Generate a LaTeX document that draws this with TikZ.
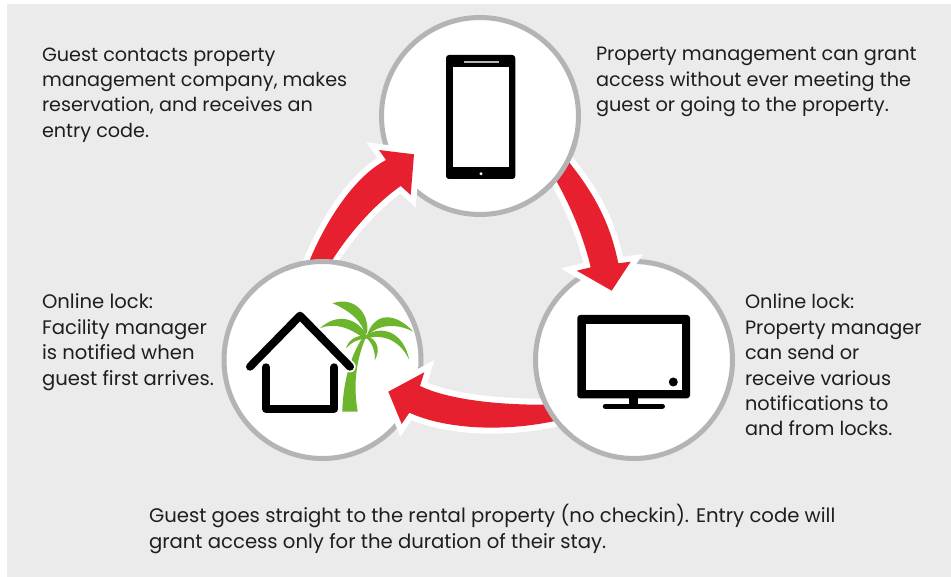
\documentclass[tikz,border=0pt]{standalone}
\usepackage{fontspec}
\setmainfont{Poppins}
\usetikzlibrary{calc}
\definecolor{panelgrey}{HTML}{EBEBEB}
\definecolor{ringgrey}{HTML}{B3B4B6}
\definecolor{arrowred}{HTML}{E6202F}
\definecolor{palmgreen}{HTML}{6CB52D}
\definecolor{inktext}{HTML}{1E1E1E}
\tikzset{
  ring/.style={circle,draw=ringgrey,fill=white,line width=5pt,minimum size=197pt,inner sep=0pt,outer sep=0pt},
  ringarc/.style={draw=ringgrey,line width=5pt},
  fatarrow/.style={fill=arrowred,draw=white,line width=12pt,miter limit=20,line join=miter},
  fatcore/.style={fill=arrowred},
  note/.style={anchor=north west,inner sep=0pt,outer sep=0pt,align=left,text=inktext,font=\fontsize{#1}{25.4}\selectfont},
  iconline/.style={draw=black,line width=8pt,line cap=round,line join=round},
  frond/.style={fill=palmgreen},
}
\begin{document}
\begin{tikzpicture}[x=1pt,y=-1pt]
\useasboundingbox (0,0) rectangle (951,577);
\fill[white] (0,0) rectangle (951,577);
\fill[panelgrey] (7,4) rectangle (951,577);

\node[ring] (top) at (480,116) {};
\node[ring] (left) at (322.5,360) {};
\node[ring] (right) at (634,360) {};

% arrow shapes
\newcommand{\arrowone}{(left.98) .. controls (324,225) and (352,178) .. (386,160) -- (379,150) -- (414,154.3) -- (410.7,195) -- (400.7,186) .. controls (375,204) and (350,232) .. (left.85) -- cycle}
\newcommand{\arrowtwo}{(top.-27) .. controls (600,200) and (612,232) .. (618.3,263.3) -- (630.7,261.7) -- (611.7,290.7) -- (576.7,270.7) -- (590.7,267.3) .. controls (583,235) and (570,205) .. (top.-40) -- cycle}
\newcommand{\arrowthree}{(right.207) .. controls (490,405) and (445,398) .. (420,386) -- (424.3,372.3) -- (388.3,391.7) -- (401.7,424) -- (409.3,412.7) .. controls (450,431) and (510,431) .. (right.218) -- cycle}
\path[fatarrow] \arrowone;
\path[fatarrow] \arrowtwo;
\path[fatarrow] \arrowthree;
\path[fatcore] \arrowone;
\path[fatcore] \arrowtwo;
\path[fatcore] \arrowthree;

% ring pieces that lie over the arrow tails
\draw[ringarc] (left.70) arc[start angle=70,end angle=112,radius=98.5pt];
\draw[ringarc] (top.-15) arc[start angle=-15,end angle=-52,radius=98.5pt];
\draw[ringarc] (right.195) arc[start angle=195,end angle=230,radius=98.5pt];

% phone
\fill[black,rounded corners=3pt] (446,55) rectangle (515.3,179);
\fill[white] (453.3,66.7) rectangle (508.7,167.3);
\draw[ringgrey,line width=1.5pt] (464,62) -- (498.7,62);
\fill[white] (481,173.7) circle[radius=1.6pt];

% screen
\fill[black,rounded corners=3pt] (577.3,315) rectangle (690,398.3);
\fill[white] (586,323.7) rectangle (681.7,389.7);
\fill[black] (673.3,382) circle[radius=4.5pt];
\fill[black] (629.3,398) rectangle (638.3,405);
\draw[black,line width=5.3pt,line cap=round] (605.4,406.3) -- (662.3,406.3);

% palm
\fill[palmgreen] (342.3,411.7) .. controls (343,385) and (349,358) .. (363,337) -- (366,337) .. controls (356,360) and (353,385) .. (357.7,411.7) -- cycle;
\path[frond] (365,337) .. controls (364,322) and (350,311) .. (332.7,303.3) .. controls (350,297) and (368,308) .. (367.5,331) -- cycle;
\path[frond] (364,338.5) .. controls (350,328) and (335,322) .. (320,328.3) .. controls (335,314) and (355,316) .. (366,334) -- cycle;
\path[frond] (366,338) .. controls (375,325) and (395,322) .. (413.3,331.7) .. controls (395,312) and (375,312) .. (367,335) -- cycle;
\path[frond] (365,339) .. controls (382,333) and (400,340) .. (409.3,360) .. controls (403,330) and (380,325) .. (365,336) -- cycle;
\path[frond] (365,339) .. controls (357,339) and (351,343) .. (346,348.3) .. controls (349,339) and (357,335) .. (365,336) -- cycle;
\path[frond] (365,337) .. controls (372,342) and (375,350) .. (375,360) .. controls (380,350) and (379,340) .. (365,335) -- cycle;

% house
\draw[white,line width=11.5pt,line cap=round,line join=round] (250,366.7) -- (300,315.7) -- (350,366.7);
\draw[iconline] (250,366.7) -- (300,315.7) -- (350,366.7);
\draw[iconline] (266,367.3) -- (266,409) -- (334.3,409) -- (334.3,367.3);

% texts
\node[note=19.2] (n1) at (42,47.6) {Guest contacts property\\management company, makes\\reservation, and receives an\\entry code.};
\node[note=19.3] (n2) at (596,47.2) {Property management can grant\\access without ever meeting the\\guest or going to the property.};
\node[note=19.6] (n3) at (42,294) {Online lock:\\Facility manager\\is notified when\\guest first arrives.};
\node[note=19.3] (n4) at (745,294.2) {Online lock:\\Property manager\\can send or\\receive various\\notifications to\\and from locks.};
\node[note=19.65] (n5) at (149,504.5) {Guest goes straight to the rental property (no checkin). Entry code will\\grant access only for the duration of their stay.};
\end{tikzpicture}
\end{document}
